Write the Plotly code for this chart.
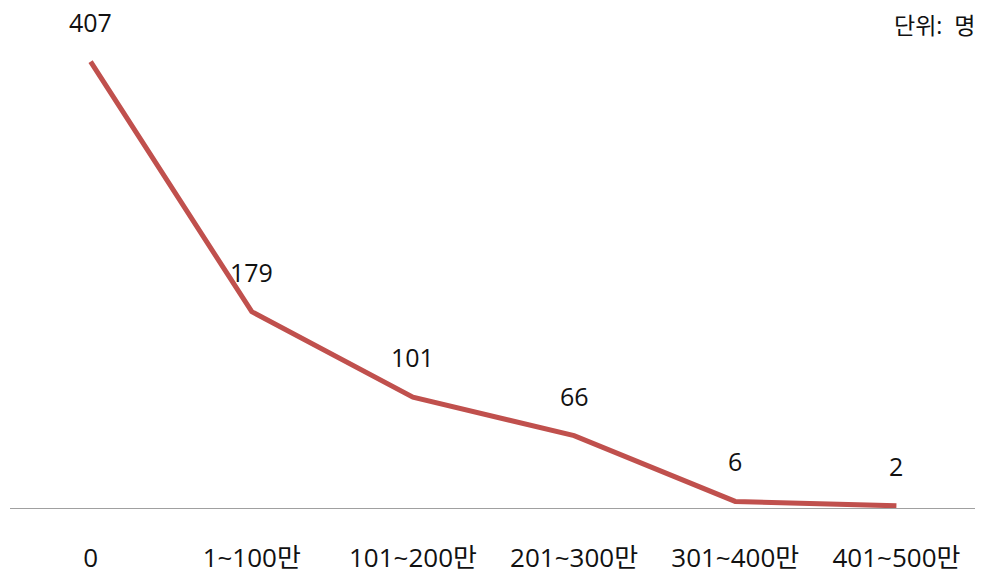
import plotly.graph_objects as go

categories = ["0", "1~100만", "101~200만", "201~300만", "301~400만", "401~500만"]
counts = [407, 179, 101, 66, 6, 2]
unit_label = "단위:  명"

FONT = "Open Sans, Noto Sans CJK KR, sans-serif"

fig = go.Figure()
fig.add_trace(go.Scatter(
    x=list(range(len(categories))), y=counts,
    mode="lines",
    line=dict(color="#c0504d", width=5),
    hoverinfo="skip",
))

# value labels above each point
for i, v in enumerate(counts):
    fig.add_annotation(x=i, y=v, text=str(v), showarrow=False,
                       yshift=40, font=dict(size=25, color="#111111", family=FONT))

fig.add_annotation(xref="paper", yref="paper", x=1.0, y=1.0, xanchor="right", yanchor="middle",
                   text=unit_label, showarrow=False, yshift=-5,
                   font=dict(size=23, color="#111111", family=FONT))

# page body adds an 8px offset, so the figure is sized to the visible area
fig.update_layout(
    width=975, height=565,
    margin=dict(l=2, r=6, t=12, b=65),
    plot_bgcolor="white", paper_bgcolor="white",
    showlegend=False,
    font=dict(family=FONT, size=25, color="#111111"),
)
fig.update_xaxes(
    range=[-0.5, 5.5],
    tickmode="array", tickvals=list(range(len(categories))), ticktext=categories,
    showgrid=False, zeroline=False, automargin=False,
    showline=True, linecolor="#a0a0a0", linewidth=1,
    ticks="", ticklabelstandoff=27,
    tickfont=dict(size=26, color="#111111", family=FONT),
)
fig.update_yaxes(range=[0, 445], visible=False, showgrid=False, zeroline=False, automargin=False)

fig.write_html("out.html")
